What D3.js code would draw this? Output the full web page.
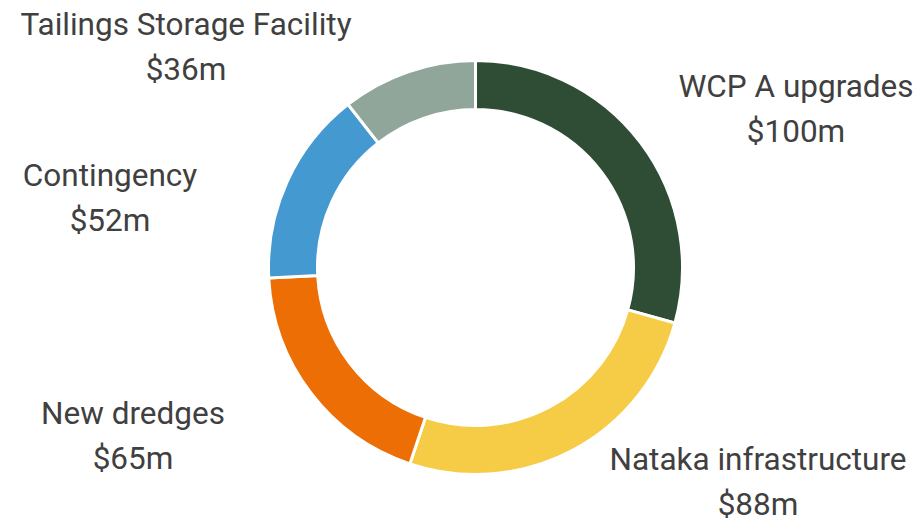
<!DOCTYPE html>
<html>
<head>
<meta charset="utf-8">
<script src="https://cdn.jsdelivr.net/npm/d3@7"></script>
<style>
  body { margin: 0; background: #fff; }
  text { font-family: Roboto, "Noto Sans", sans-serif; fill: #404040; }
</style>
</head>
<body>
<div id="chart"></div>
<script>
var categories = ["WCP A upgrades", "Nataka infrastructure", "New dredges", "Contingency", "Tailings Storage Facility"];
var values = [100, 88, 65, 52, 36];
var valueLabels = ["$100m", "$88m", "$65m", "$52m", "$36m"];
var colors = ["#2e4d34", "#f6cb45", "#ec6e05", "#4499d1", "#90a69a"];

// label anchor points (centre of the two text lines), chosen to match layout
var labelPos = [[796, 104], [758, 477], [133, 431], [110, 193], [186, 42]];

var width = 923, height = 519;
var cx = 475.5, cy = 267.5, outerR = 207, innerR = 158;

var svg = d3.select("#chart")
    .append("svg")
    .attr("width", width)
    .attr("height", height);

var g = svg.append("g")
    .attr("transform", "translate(" + cx + "," + cy + ")");

var pie = d3.pie().sort(null).value(function (d) { return d; });
var arc = d3.arc().innerRadius(innerR).outerRadius(outerR);

g.selectAll(".slice")
    .data(pie(values))
    .enter().append("path")
    .attr("class", "slice")
    .attr("d", arc)
    .attr("fill", function (d, i) { return colors[i]; })
    .attr("stroke", "#fff")
    .attr("stroke-width", 3);

var labels = svg.selectAll(".label")
    .data(categories)
    .enter().append("text")
    .attr("class", "label")
    .attr("text-anchor", "middle")
    .style("font-size", "31.5px")
    .attr("transform", function (d, i) { return "translate(" + labelPos[i][0] + "," + labelPos[i][1] + ")"; });

labels.append("tspan")
    .attr("x", 0)
    .attr("y", -7)
    .text(function (d) { return d; });

labels.append("tspan")
    .attr("x", 0)
    .attr("y", 38)
    .text(function (d, i) { return valueLabels[i]; });
</script>
</body>
</html>
